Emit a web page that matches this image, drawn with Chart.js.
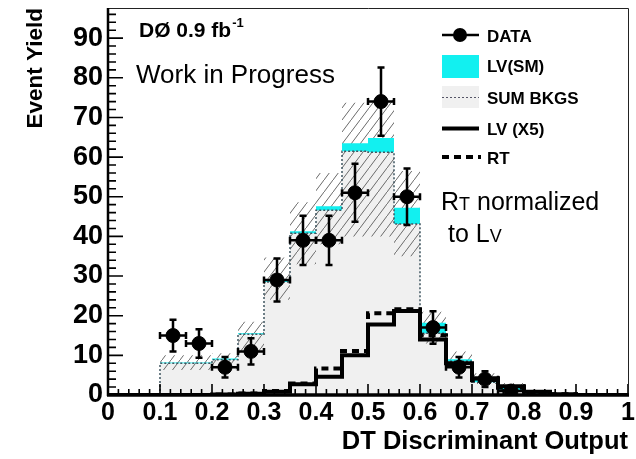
<!DOCTYPE html>
<html><head><meta charset="utf-8">
<script src="https://cdn.jsdelivr.net/npm/chart.js@4/dist/chart.umd.min.js"></script>
<style>html,body{margin:0;padding:0;background:#fff;}#wrap{width:636px;height:459px;}</style>
</head><body><div id="wrap"><canvas id="c" width="636" height="459"></canvas></div>
<script>
// ---- data ----
const binEdges = [0,0.05,0.1,0.15,0.2,0.25,0.3,0.35,0.4,0.45,0.5,0.55,0.6,0.65,0.7,0.75,0.8,0.85,0.9,0.95,1.0];
const sumBkg   = [0,0,8.0,8.0,8.9,15.3,28.5,40.8,46.6,61.5,61.2,43.1,15.6,8.5,3.2,1.2,0.4,0,0,0];
const lvSM     = [0,0,0.2,0.2,0.3,0.3,0.3,0.5,1.0,2.0,3.6,4.1,2.6,0.5,1.0,0.6,0.2,0,0,0];
const hatchLow = [0,0,6.3,6.3,6.5,10,24,33,38,40,40,35,13,7,2.8,1.0,0.3,0,0,0];
const hatchHigh= [0,0,10,10,10.5,18.5,34.7,48.6,56,73.7,75,56.5,21,11,5.5,3.0,1.0,0,0,0];
const lvX5     = [0,0,0,0,0.1,0.3,0.8,2.7,4.6,10.0,17.8,21.2,14.0,8.0,4.2,2.2,0.8,0.2,0,0];
const rtNorm   = [0,0,0,0,0.1,0.4,1.0,2.9,6.7,11.1,20.6,21.6,15.1,7.5,3.8,1.8,0.6,0.2,0,0];
const dataX    = [0.125,0.175,0.225,0.275,0.325,0.375,0.425,0.475,0.525,0.575,0.625,0.675,0.725,0.775];
const dataY    = [15,13,7,11,29,39,39,51,74,50,17,7,4,1];
const dataErr  = [4,3.6,2.6,3.3,5.4,6.2,6.2,7.3,8.6,7.1,4.1,2.6,2.0,1.0];
const xTickLabels = ['0','0.1','0.2','0.3','0.4','0.5','0.6','0.7','0.8','0.9','1'];
const yTickLabels = ['0','10','20','30','40','50','60','70','80','90'];

const FONT = '"Liberation Sans", Arial, Helvetica, sans-serif';
const CYAN = '#12f0f0';
const GRAY = '#f0f0f0';

function steps(vals) {
  const pts = vals.map((v, i) => ({x: binEdges[i], y: v}));
  pts.push({x: binEdges[binEdges.length - 1], y: vals[vals.length - 1]});
  return pts;
}
const totalSM = sumBkg.map((v, i) => v + lvSM[i]);

function hatchPattern() {
  const c = document.createElement('canvas');
  c.width = 9; c.height = 12;
  const g = c.getContext('2d');
  g.strokeStyle = '#6a6a6a'; g.lineWidth = 1;
  g.beginPath(); g.moveTo(-1, 12 + 12/9); g.lineTo(10, -12/9); g.stroke();
  return g.createPattern(c, 'repeat');
}

const errorBars = {
  id: 'errorBars',
  afterDatasetsDraw(chart) {
    const {ctx, chartArea: a, scales: {x, y}} = chart;
    ctx.save();
    ctx.beginPath(); ctx.rect(a.left, a.top, a.right - a.left, a.bottom - a.top); ctx.clip();
    ctx.strokeStyle = '#000'; ctx.lineWidth = 2.5;
    dataX.forEach((cx, i) => {
      const px = x.getPixelForValue(cx), py = y.getPixelForValue(dataY[i]);
      const x1 = x.getPixelForValue(cx - 0.025), x2 = x.getPixelForValue(cx + 0.025);
      const y1 = y.getPixelForValue(dataY[i] + dataErr[i]), y2 = y.getPixelForValue(dataY[i] - dataErr[i]);
      ctx.beginPath();
      ctx.moveTo(x1, py); ctx.lineTo(x2, py);
      ctx.moveTo(px, y1); ctx.lineTo(px, y2);
      ctx.moveTo(x1, py - 3.5); ctx.lineTo(x1, py + 3.5);
      ctx.moveTo(x2, py - 3.5); ctx.lineTo(x2, py + 3.5);
      ctx.moveTo(px - 3.5, y1); ctx.lineTo(px + 3.5, y1);
      ctx.moveTo(px - 3.5, y2); ctx.lineTo(px + 3.5, y2);
      ctx.stroke();
    });
    ctx.restore();
  }
};

const frame = {
  id: 'frame',
  afterDatasetsDraw(chart) {
    const {ctx, chartArea: a, scales: {x, y}} = chart;
    ctx.save();
    ctx.strokeStyle = '#000';
    ctx.lineWidth = 1.6;
    ctx.beginPath();
    for (let v = 0; v <= y.max + 1e-9; v += 2) {
      const p = y.getPixelForValue(v);
      const len = (Math.round(v) % 10 === 0) ? 15 : 8;
      ctx.moveTo(a.left, p); ctx.lineTo(a.left + len, p);
    }
    for (let i = 0; i <= 50; i++) {
      const p = x.getPixelForValue(i * 0.02);
      const len = (i % 5 === 0) ? 11 : 6;
      ctx.moveTo(p, a.bottom); ctx.lineTo(p, a.bottom - len);
    }
    ctx.stroke();
    ctx.lineWidth = 1; ctx.strokeStyle = '#222';
    ctx.beginPath();
    ctx.moveTo(a.left, a.top + 0.5); ctx.lineTo(a.right + 0.5, a.top + 0.5); ctx.lineTo(a.right + 0.5, a.bottom);
    ctx.stroke();
    ctx.strokeStyle = '#000';
    ctx.lineWidth = 2.5;
    ctx.beginPath(); ctx.moveTo(a.left, a.top); ctx.lineTo(a.left, a.bottom + 1); ctx.stroke();
    ctx.lineWidth = 3.5;
    ctx.beginPath(); ctx.moveTo(a.left - 1, a.bottom); ctx.lineTo(a.right + 1, a.bottom); ctx.stroke();
    ctx.restore();
  }
};

const annotations = {
  id: 'annotations',
  afterDraw(chart) {
    const ctx = chart.ctx;
    ctx.save();
    ctx.fillStyle = '#000';
    ctx.textBaseline = 'alphabetic';
    ctx.textAlign = 'left';
    ctx.font = 'bold 21px ' + FONT;
    ctx.fillText('DØ 0.9 fb', 139, 37);
    let w = ctx.measureText('DØ 0.9 fb').width;
    ctx.font = 'bold 13px ' + FONT;
    ctx.fillText('-1', 139 + w + 1, 27);
    ctx.font = '26px ' + FONT;
    ctx.fillText('Work in Progress', 136, 83);
    let xx = 441;
    ctx.font = '25px ' + FONT; ctx.fillText('R', xx, 210); xx += ctx.measureText('R').width;
    ctx.font = '18px ' + FONT; ctx.fillText('T', xx, 210); xx += ctx.measureText('T').width;
    ctx.font = '25px ' + FONT; ctx.fillText(' normalized', xx, 210);
    xx = 441;
    ctx.font = '25px ' + FONT; ctx.fillText(' to L', xx, 242); xx += ctx.measureText(' to L').width;
    ctx.font = '18px ' + FONT; ctx.fillText('V', xx, 242);

    const lx1 = 442, lx2 = 479, tx = 487;
    ctx.font = 'bold 17px ' + FONT;
    ctx.textBaseline = 'middle';
    ctx.strokeStyle = '#000'; ctx.lineWidth = 2.5;
    ctx.beginPath(); ctx.moveTo(lx1, 35); ctx.lineTo(lx2, 35); ctx.stroke();
    ctx.beginPath(); ctx.arc(460, 35, 7, 0, Math.PI * 2); ctx.fill();
    ctx.fillText('DATA', tx, 37);
    ctx.fillStyle = CYAN; ctx.fillRect(lx1, 55, lx2 - lx1, 23);
    ctx.fillStyle = '#000'; ctx.fillText('LV(SM)', tx, 67);
    ctx.fillStyle = GRAY; ctx.fillRect(lx1, 86, lx2 - lx1, 22);
    ctx.strokeStyle = '#556'; ctx.lineWidth = 1; ctx.setLineDash([2, 2]);
    ctx.beginPath(); ctx.moveTo(lx1, 97.5); ctx.lineTo(lx2, 97.5); ctx.stroke();
    ctx.setLineDash([]);
    ctx.fillStyle = '#000'; ctx.fillText('SUM BKGS', tx, 99);
    ctx.strokeStyle = '#000'; ctx.lineWidth = 4;
    ctx.beginPath(); ctx.moveTo(lx1, 128.5); ctx.lineTo(lx2, 128.5); ctx.stroke();
    ctx.fillText('LV (X5)', tx, 130);
    ctx.setLineDash([7, 5]);
    ctx.beginPath(); ctx.moveTo(lx1, 157); ctx.lineTo(lx2 + 2, 157); ctx.stroke();
    ctx.setLineDash([]);
    ctx.fillText('RT', tx, 159);
    ctx.restore();
  }
};

const ctx = document.getElementById('c').getContext('2d');
new Chart(ctx, {
  type: 'line',
  data: {
    datasets: [
      { label: 'SUM BKGS fill', data: steps(sumBkg), stepped: 'before', fill: 'origin',
        backgroundColor: GRAY, borderWidth: 0, pointRadius: 0, order: 6 },
      { label: 'band low', data: steps(hatchLow), stepped: 'before', fill: false,
        borderWidth: 0, borderColor: 'rgba(0,0,0,0)', pointRadius: 0, order: 8 },
      { label: 'band high', data: steps(hatchHigh), stepped: 'before', fill: {target: 1},
        backgroundColor: hatchPattern(), borderWidth: 0, borderColor: 'rgba(0,0,0,0)', pointRadius: 0, order: 5 },
      { label: 'LV(SM)', data: steps(totalSM), stepped: 'before', fill: {target: 0},
        backgroundColor: CYAN, borderWidth: 0, borderColor: 'rgba(0,0,0,0)', pointRadius: 0, order: 4 },
      { label: 'SUM BKGS', data: steps(sumBkg), stepped: 'before', fill: false,
        borderColor: '#3f5560', borderWidth: 1.5, borderDash: [2, 2], pointRadius: 0, order: 3 },
      { label: 'LV (X5)', data: steps(lvX5), stepped: 'before', fill: false,
        borderColor: '#000', borderWidth: 4, pointRadius: 0, order: 2 },
      { label: 'RT', data: steps(rtNorm), stepped: 'before', fill: false,
        borderColor: '#000', borderWidth: 4, borderDash: [7, 5], pointRadius: 0, order: 1 },
      { label: 'DATA', type: 'scatter', data: dataX.map((v, i) => ({x: v, y: dataY[i]})),
        backgroundColor: '#000', borderColor: '#000', pointRadius: 7, pointHoverRadius: 7, order: 0 }
    ]
  },
  options: {
    responsive: false,
    animation: false,
    events: [],
    layout: { padding: { top: 4, right: 7, bottom: 0, left: 0 } },
    plugins: { legend: { display: false }, tooltip: { enabled: false } },
    scales: {
      x: {
        type: 'linear', min: 0, max: 1,
        grid: { display: false, drawTicks: false }, border: { display: false },
        ticks: { stepSize: 0.1, padding: 3, color: '#000',
          font: { family: FONT, size: 25, weight: 'bold' },
          callback: (v) => { const i = Math.round(v * 10); return xTickLabels[i]; } },
        title: { display: true, text: 'DT Discriminant Output', align: 'end', color: '#000',
          font: { family: FONT, size: 25.5, weight: 'bold', lineHeight: 1.2 }, padding: { top: 0, bottom: 2 } },
        afterFit: (s) => { s.height = 64; s.paddingLeft = 0; s.paddingRight = 0; }
      },
      y: {
        type: 'linear', min: 0, max: 97.6,
        grid: { display: false, drawTicks: false }, border: { display: false },
        ticks: { stepSize: 10, includeBounds: false, padding: 5, color: '#000',
          font: { family: FONT, size: 27, weight: 'bold' },
          callback: (v) => yTickLabels[Math.round(v / 10)] },
        title: { display: true, text: 'Event Yield', align: 'end', color: '#000',
          font: { family: FONT, size: 22.5, weight: 'bold', lineHeight: 1.2 }, padding: { top: 22, bottom: 0 } },
        afterFit: (s) => { s.width = 108; s.paddingTop = 0; s.paddingBottom = 0; }
      }
    }
  },
  plugins: [errorBars, frame, annotations]
});
</script></body></html>
